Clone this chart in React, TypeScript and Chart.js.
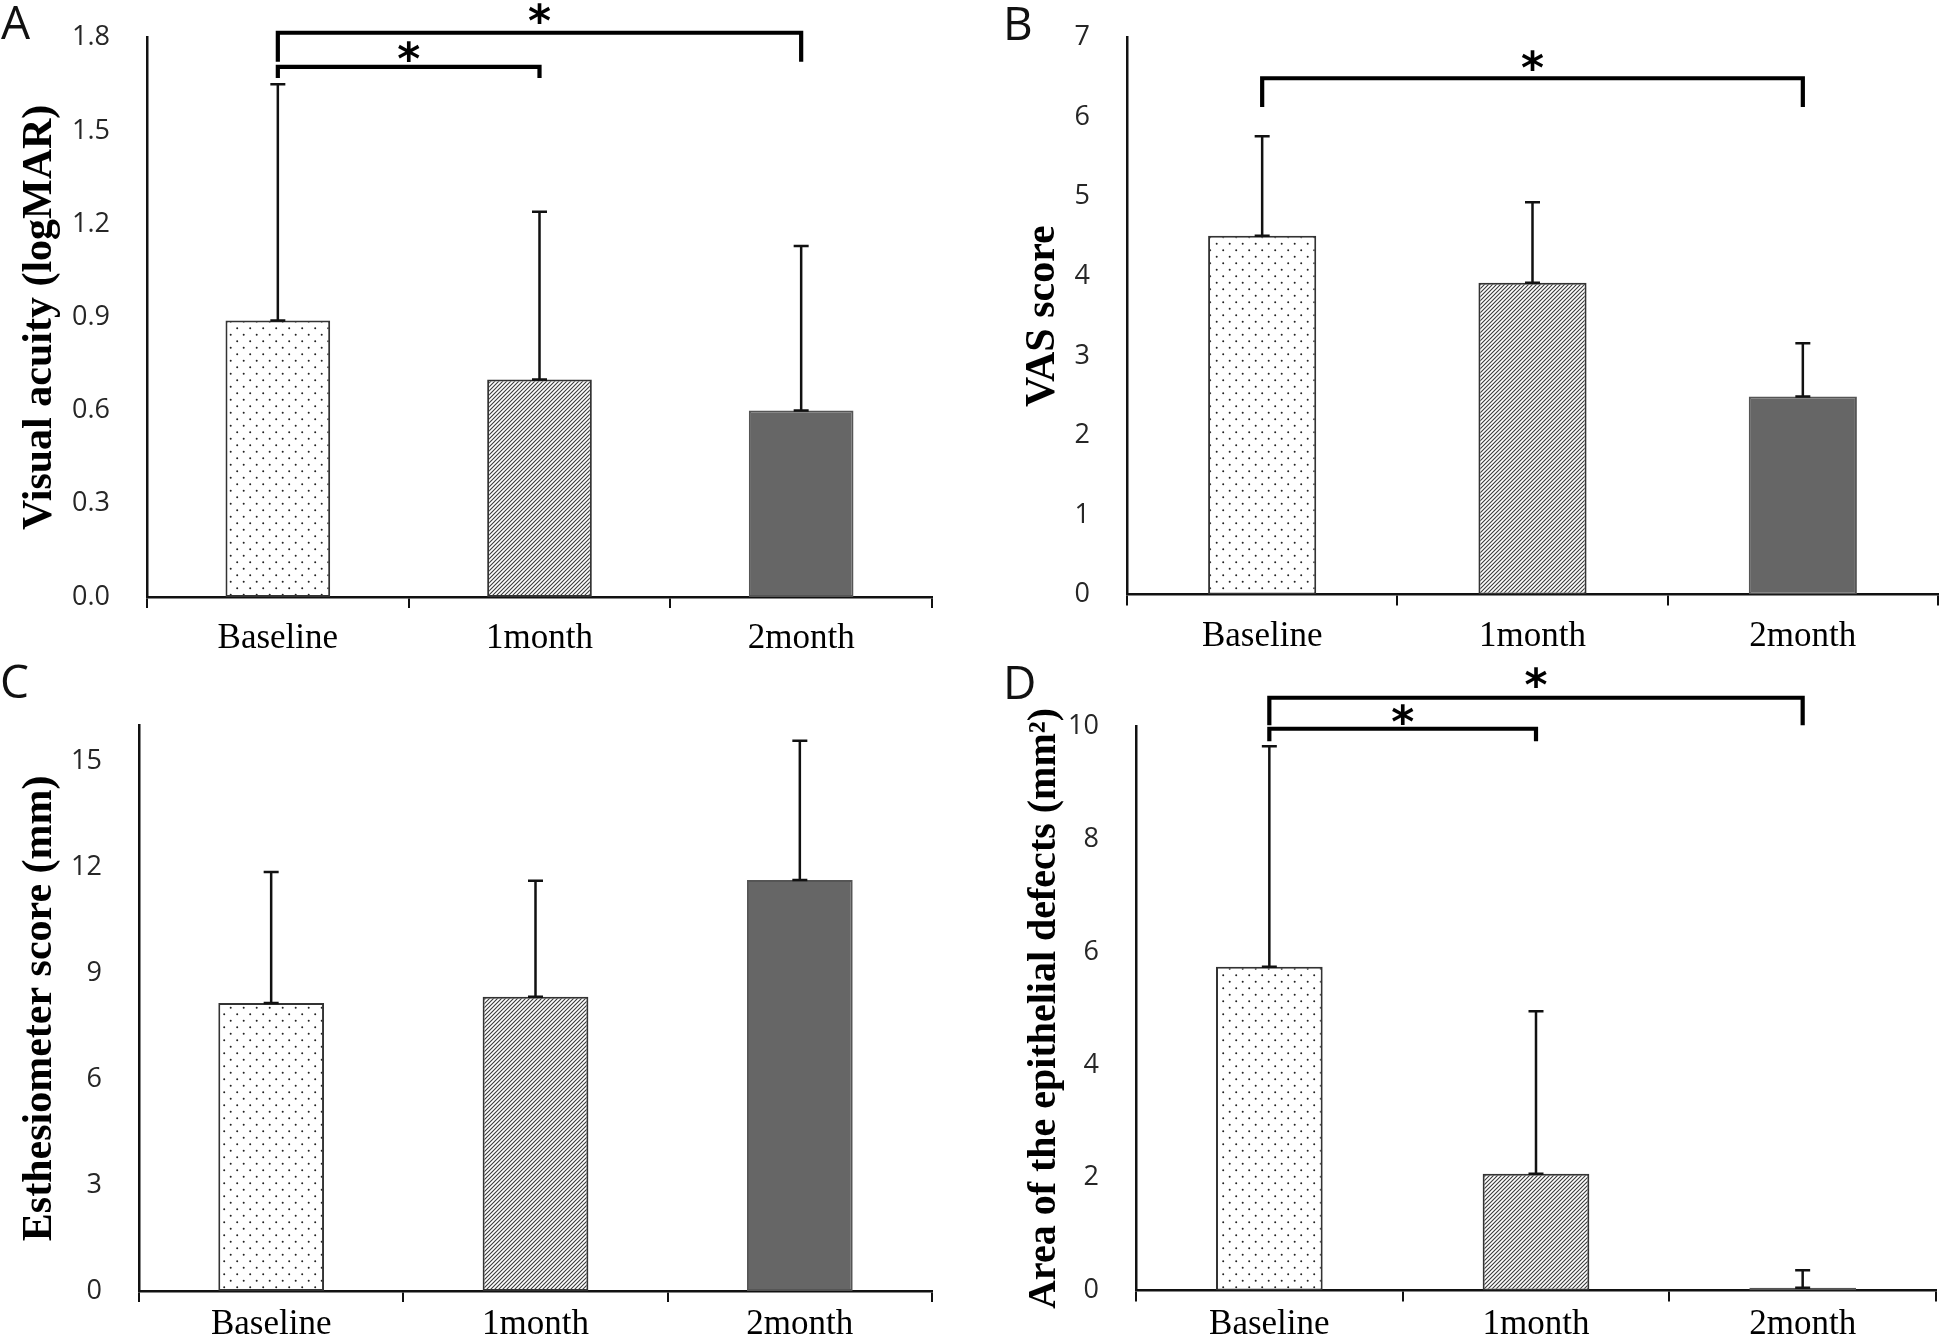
import React, { useEffect, useRef } from 'react';
import { Chart, registerables } from 'chart.js';

Chart.register(...registerables);

// ---------- data ----------
const categories = ['Baseline', '1month', '2month'];

const acuityMean = [0.89, 0.70, 0.60];
const acuitySD = [0.76, 0.54, 0.53];
const acuityTicks = [0, 0.3, 0.6, 0.9, 1.2, 1.5, 1.8];

const vasMean = [4.51, 3.92, 2.49];
const vasSD = [1.25, 1.01, 0.67];
const vasTicks = [0, 1, 2, 3, 4, 5, 6, 7];

const esthMean = [8.15, 8.33, 11.63];
const esthSD = [3.71, 3.28, 3.94];
const esthTicks = [0, 3, 6, 9, 12, 15];

const defectMean = [5.74, 2.07, 0.05];
const defectSD = [3.91, 2.88, 0.31];
const defectTicks = [0, 2, 4, 6, 8, 10];

// significance brackets: [fromIndex, toIndex, barValue, legEndValue, starValue]
const acuityBrackets = [
  [0, 1, 1.706, 1.67, 1.757],
  [0, 2, 1.816, 1.723, 1.878],
];
const vasBrackets = [[0, 2, 6.49, 6.13, 6.71]];
const esthBrackets: number[][] = [];
const defectBrackets = [
  [0, 1, 9.96, 9.74, 10.21],
  [0, 2, 10.51, 10.02, 10.86],
];

type PanelCfg = {
  letter: string;
  letterX: number;
  letterY: number;
  title: string;
  titleSize: number;
  titleX: number;
  mean: number[];
  sd: number[];
  ticks: number[];
  max: number;
  decimals: number;
  brackets: number[][];
  w: number;
  h: number;
  axisX: number;
  right: number;
  top: number;
  bottom: number;
  labelPad: number;
  left: number;
  y: number;
};

const panels: PanelCfg[] = [
  {
    letter: 'A', letterX: 1, letterY: 39,
    title: 'Visual acuity (logMAR)', titleSize: 42, titleX: 40,
    mean: acuityMean, sd: acuitySD, ticks: acuityTicks, max: 1.8, decimals: 1,
    brackets: acuityBrackets,
    w: 973, h: 660, axisX: 147, right: 932, top: 37.7, bottom: 597, labelPad: 10,
    left: 0, y: 0,
  },
  {
    letter: 'B', letterX: 30, letterY: 40,
    title: 'VAS score', titleSize: 42, titleX: 70,
    mean: vasMean, sd: vasSD, ticks: vasTicks, max: 7, decimals: 0,
    brackets: vasBrackets,
    w: 973, h: 660, axisX: 154, right: 965, top: 37.7, bottom: 594.5, labelPad: 10,
    left: 973, y: 0,
  },
  {
    letter: 'C', letterX: 0, letterY: 38,
    title: 'Esthesiometer score (mm)', titleSize: 42, titleX: 40,
    mean: esthMean, sd: esthSD, ticks: esthTicks, max: 16, decimals: 0,
    brackets: esthBrackets,
    w: 973, h: 684, axisX: 139, right: 932, top: 65.6, bottom: 631, labelPad: 2,
    left: 0, y: 660,
  },
  {
    letter: 'D', letterX: 30, letterY: 39,
    title: 'Area of the epithelial defects (mm\u00B2)', titleSize: 40, titleX: 72,
    mean: defectMean, sd: defectSD, ticks: defectTicks, max: 10, decimals: 0,
    brackets: defectBrackets,
    w: 973, h: 684, axisX: 163, right: 963, top: 66.5, bottom: 630.5, labelPad: 2,
    left: 973, y: 660,
  },
];

function makeDots(ctx: CanvasRenderingContext2D) {
  const s = 13;
  const c = document.createElement('canvas');
  c.width = s;
  c.height = s;
  const g = c.getContext('2d')!;
  g.fillStyle = '#ffffff';
  g.fillRect(0, 0, s, s);
  g.fillStyle = '#222222';
  g.beginPath();
  g.arc(3.2, 3.2, 1.0, 0, Math.PI * 2);
  g.arc(9.7, 9.7, 1.0, 0, Math.PI * 2);
  g.fill();
  return ctx.createPattern(c, 'repeat');
}

function makeHatch(ctx: CanvasRenderingContext2D) {
  const s = 4;
  const c = document.createElement('canvas');
  c.width = s;
  c.height = s;
  const g = c.getContext('2d')!;
  g.fillStyle = '#ffffff';
  g.fillRect(0, 0, s, s);
  g.strokeStyle = '#3a3a3a';
  g.lineWidth = 1.1;
  g.beginPath();
  g.moveTo(-1, s + 1);
  g.lineTo(s + 1, -1);
  g.moveTo(-1, 1);
  g.lineTo(1, -1);
  g.moveTo(s - 1, s + 1);
  g.lineTo(s + 1, s - 1);
  g.stroke();
  return ctx.createPattern(c, 'repeat');
}

function makeOverlay(cfg: PanelCfg) {
  return {
    id: 'overlay' + cfg.letter,
    afterDatasetsDraw(chart: any) {
      const ctx: CanvasRenderingContext2D = chart.ctx;
      const meta = chart.getDatasetMeta(0);
      const ys = chart.scales.y;
      ctx.save();
      // error bars (upper only)
      ctx.strokeStyle = '#111111';
      ctx.lineWidth = 2.5;
      meta.data.forEach((bar: any, i: number) => {
        const x = bar.x;
        const y0 = ys.getPixelForValue(cfg.mean[i]);
        const y1 = ys.getPixelForValue(cfg.mean[i] + cfg.sd[i]);
        ctx.beginPath();
        ctx.moveTo(x, y0);
        ctx.lineTo(x, y1);
        ctx.moveTo(x - 7.5, y1);
        ctx.lineTo(x + 7.5, y1);
        ctx.moveTo(x - 7.5, y0);
        ctx.lineTo(x + 7.5, y0);
        ctx.stroke();
      });
      // significance brackets
      ctx.lineWidth = 4.2;
      ctx.lineJoin = 'miter';
      ctx.lineCap = 'butt';
      ctx.strokeStyle = '#000000';
      ctx.fillStyle = '#000000';
      ctx.font = 'bold 44px "DejaVu Sans"';
      ctx.textAlign = 'left';
      ctx.textBaseline = 'alphabetic';
      const m = ctx.measureText('*');
      for (const br of cfg.brackets) {
        const [a, b, top, leg, star] = br;
        const xa = meta.data[a].x;
        const xb = meta.data[b].x;
        const yt = ys.getPixelForValue(top);
        const yl = ys.getPixelForValue(leg);
        ctx.beginPath();
        ctx.moveTo(xa, yl);
        ctx.lineTo(xa, yt);
        ctx.lineTo(xb, yt);
        ctx.lineTo(xb, yl);
        ctx.stroke();
        const cx = (xa + xb) / 2;
        const cy = ys.getPixelForValue(star);
        const tx = cx - (m.actualBoundingBoxRight - m.actualBoundingBoxLeft) / 2;
        const ty = cy + (m.actualBoundingBoxAscent - m.actualBoundingBoxDescent) / 2;
        ctx.fillText('*', tx, ty);
      }
      ctx.restore();
    },
    afterDraw(chart: any) {
      const ctx: CanvasRenderingContext2D = chart.ctx;
      ctx.save();
      ctx.fillStyle = '#111111';
      ctx.font = '46px "Open Sans"';
      ctx.textAlign = 'left';
      ctx.textBaseline = 'alphabetic';
      ctx.fillText(cfg.letter, cfg.letterX, cfg.letterY);
      ctx.restore();
    },
  };
}

function Panel({ cfg }: { cfg: PanelCfg }) {
  const ref = useRef<HTMLCanvasElement | null>(null);
  useEffect(() => {
    const canvas = ref.current!;
    const ctx = canvas.getContext('2d')!;
    const dots = makeDots(ctx);
    const hatch = makeHatch(ctx);
    const chart = new Chart(canvas, {
      type: 'bar',
      data: {
        labels: categories,
        datasets: [
          {
            data: cfg.mean,
            backgroundColor: [dots, hatch, '#666666'] as any,
            borderColor: ['#333333', '#333333', '#555555'],
            borderWidth: 2,
            borderSkipped: false,
            barPercentage: 0.4,
            categoryPercentage: 1,
          },
        ],
      },
      options: {
        responsive: false,
        animation: false,
        devicePixelRatio: 1,
        layout: {
          padding: { top: cfg.top, right: cfg.w - cfg.right, left: 0, bottom: 0 },
        },
        plugins: {
          legend: { display: false },
          tooltip: { enabled: false },
        },
        scales: {
          x: {
            type: 'category',
            offset: true,
            grid: {
              display: true,
              drawOnChartArea: false,
              drawTicks: true,
              tickLength: 11,
              color: '#111111',
              lineWidth: 2,
              offset: true,
            },
            border: { display: true, color: '#111111', width: 2.5 },
            ticks: {
              color: '#000000',
              font: { family: '"Liberation Serif"', size: 35 },
              padding: cfg.labelPad,
              maxRotation: 0,
              autoSkip: false,
            },
            afterFit: (s: any) => {
              s.height = cfg.h - cfg.bottom;
              s.paddingLeft = 0;
              s.paddingRight = 0;
            },
          },
          y: {
            type: 'linear',
            min: 0,
            max: cfg.max,
            grid: { display: false, drawTicks: false },
            border: { display: true, color: '#111111', width: 2.5 },
            ticks: {
              color: '#262626',
              font: { family: '"Open Sans"', size: 27 },
              padding: 37,
              callback: (v: any) => Number(v).toFixed(cfg.decimals),
            },
            afterBuildTicks: (s: any) => {
              s.ticks = cfg.ticks.map((v) => ({ value: v }));
            },
            afterFit: (s: any) => {
              s.width = cfg.axisX;
              s.paddingTop = 0;
              s.paddingBottom = 0;
            },
            title: {
              display: true,
              text: cfg.title,
              color: '#000000',
              font: { family: '"Liberation Serif"', size: cfg.titleSize, weight: 'bold' },
              padding: { top: cfg.titleX - cfg.titleSize * 0.6, bottom: 0 },
            },
          },
        },
      },
      plugins: [makeOverlay(cfg)],
    } as any);
    return () => chart.destroy();
  }, [cfg]);
  return (
    <div style={{ position: 'absolute', left: cfg.left, top: cfg.y, width: cfg.w, height: cfg.h }}>
      <canvas ref={ref} width={cfg.w} height={cfg.h} style={{ display: 'block' }} />
    </div>
  );
}

export default function App() {
  return (
    <div
      style={{
        position: 'absolute',
        left: 0,
        top: 0,
        width: 1946,
        height: 1344,
        background: '#ffffff',
        overflow: 'hidden',
      }}
    >
      {panels.map((p) => (
        <Panel key={p.letter} cfg={p} />
      ))}
    </div>
  );
}
